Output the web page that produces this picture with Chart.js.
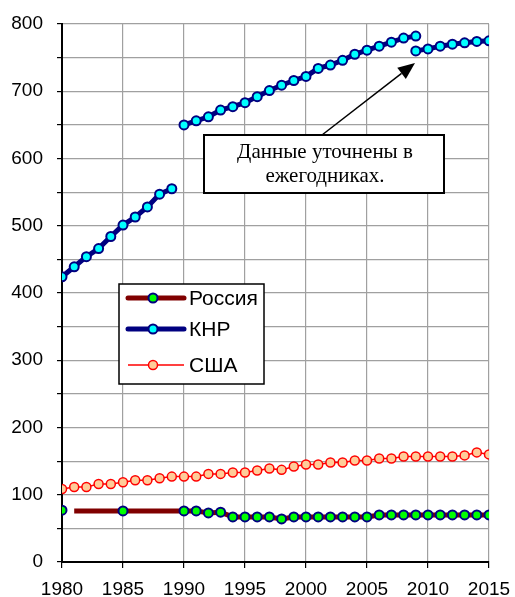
<!DOCTYPE html>
<html>
<head>
<meta charset="utf-8">
<script src="https://cdn.jsdelivr.net/npm/chart.js@4"></script>
<style>
  body { margin: 0; background: #fff; }
  #wrap { width: 515px; height: 597px; }
</style>
</head>
<body>
<div id="wrap"><canvas id="production" width="515" height="597"></canvas></div>
<script>
// years on the x axis
const years = [1980, 1981, 1982, 1983, 1984, 1985, 1986, 1987, 1988, 1989,
               1990, 1991, 1992, 1993, 1994, 1995, 1996, 1997, 1998, 1999,
               2000, 2001, 2002, 2003, 2004, 2005, 2006, 2007, 2008, 2009,
               2010, 2011, 2012, 2013, 2014, 2015];

const russia = [77, 76, 76, 76, 76, 76, 76, 76, 76, 76,
                76, 76, 73, 74, 67, 67, 67, 67, 64, 67,
                67, 67, 67, 67, 67, 67, 70, 70, 70, 70,
                70, 70, 70, 70, 70, 70];

// China: old series 1980-2009, revised series 2009-2015
const china = [424, 439, 454, 466, 484, 501, 513, 528, 547, 555,
               650, 656, 662, 672, 677, 683, 692, 701, 709, 716,
               722, 734, 739, 746, 755, 761, 767, 773, 779, 782];
const chinaRevisedYears = [2009, 2010, 2011, 2012, 2013, 2014, 2015];
const chinaRevised = [760, 763, 767, 770, 772, 774, 775];

const usa = [108.5, 111.5, 111.5, 116, 116, 118.5, 121.5, 121.5, 124.5, 127,
             127, 127, 131, 131, 133, 133, 136, 139, 137, 142,
             145, 145, 148, 148, 151, 151, 154, 154, 157, 157,
             157, 157, 157, 158.5, 163, 160];

const yTicks = [0, 100, 200, 300, 400, 500, 600, 700, 800];
const xTicks = [1980, 1985, 1990, 1995, 2000, 2005, 2010, 2015];

const labels = ['Россия', 'КНР', 'США'];
const note = ['Данные уточнены в', 'ежегодниках.'];

// line breaks after these years
const russiaGapAfter = [1980];
const chinaGapAfter = [1989];
// Russia years drawn without marker
const russiaNoMarker = [1981, 1982, 1983, 1984, 1986, 1987, 1988, 1989];

function toPoints(xs, ys, gaps) {
    const out = [];
    xs.forEach((x, i) => {
        out.push({x: x, y: ys[i]});
        if (gaps.includes(x)) out.push({x: x, y: null});
    });
    return out;
}

const russiaData = toPoints(years, russia, russiaGapAfter);
const chinaData = toPoints(years.slice(0, china.length), china, chinaGapAfter)
    .concat([{x: 2009, y: null}])
    .concat(toPoints(chinaRevisedYears, chinaRevised, []));
const usaData = toPoints(years, usa, []);

// legend + note box drawn on top of the plot
const overlay = {
    id: 'overlay',
    afterDatasetsDraw(chart) {
        const c = chart.ctx;
        c.save();
        // legend box
        c.fillStyle = '#fff';
        c.fillRect(119, 284, 145, 100);
        c.strokeStyle = '#000';
        c.lineWidth = 1.5;
        c.strokeRect(119, 284, 145, 100);
        const rowsY = [298, 329, 365];
        chart.data.datasets.forEach((ds, i) => {
            const y = rowsY[i];
            c.strokeStyle = ds.borderColor;
            c.lineWidth = ds.borderWidth;
            c.lineCap = ds.borderWidth > 3 ? 'round' : 'butt';
            c.beginPath();
            c.moveTo(128, y);
            c.lineTo(184, y);
            c.stroke();
            c.beginPath();
            c.arc(153, y, 4.5, 0, Math.PI * 2);
            c.fillStyle = ds.pointBackgroundColor;
            c.fill();
            c.lineWidth = ds.pointBorderWidth;
            c.strokeStyle = ds.pointBorderColor;
            c.stroke();
            c.fillStyle = '#000';
            c.font = '21px "Liberation Sans", Arial, sans-serif';
            c.textBaseline = 'middle';
            c.textAlign = 'left';
            c.fillText(ds.label, 189, y + 1);
        });

        // arrow
        c.strokeStyle = '#000';
        c.fillStyle = '#000';
        c.lineWidth = 1.5;
        c.lineCap = 'butt';
        const x0 = 322, y0 = 135, x1 = 415, y1 = 63;
        const ang = Math.atan2(y1 - y0, x1 - x0);
        const hl = 17, hw = 7;
        const bx = x1 - hl * Math.cos(ang), by = y1 - hl * Math.sin(ang);
        c.beginPath();
        c.moveTo(x0, y0);
        c.lineTo(bx, by);
        c.stroke();
        c.beginPath();
        c.moveTo(x1, y1);
        c.lineTo(bx + hw * Math.sin(ang), by - hw * Math.cos(ang));
        c.lineTo(bx - hw * Math.sin(ang), by + hw * Math.cos(ang));
        c.closePath();
        c.fill();

        // note box
        c.fillStyle = '#fff';
        c.fillRect(204, 135, 240, 58);
        c.lineWidth = 2;
        c.strokeRect(204, 135, 240, 58);
        c.fillStyle = '#000';
        c.font = '21px "Liberation Serif", "Times New Roman", serif';
        c.textAlign = 'center';
        c.textBaseline = 'middle';
        c.fillText(note[0], 325, 152);
        c.fillText(note[1], 325, 176);
        c.restore();
    }
};

const ctx = document.getElementById('production').getContext('2d');
const productionChart = new Chart(ctx, {
    type: 'line',
    data: {
        datasets: [{
            label: labels[0],
            data: russiaData,
            borderColor: '#800000',
            borderWidth: 5,
            pointBackgroundColor: '#00ff00',
            pointBorderColor: '#000080',
            pointBorderWidth: 2,
            pointRadius: c => (c.raw && russiaNoMarker.includes(c.raw.x) && c.raw.y !== null && c.dataIndex > 1) ? 0 : 4.5
        }, {
            label: labels[1],
            data: chinaData,
            borderColor: '#000080',
            borderWidth: 5,
            pointBackgroundColor: '#00ffff',
            pointBorderColor: '#000080',
            pointBorderWidth: 2,
            pointRadius: 4.5
        }, {
            label: labels[2],
            data: usaData,
            borderColor: '#ff0000',
            borderWidth: 1.5,
            pointBackgroundColor: '#ffcc99',
            pointBorderColor: '#ff0000',
            pointBorderWidth: 1.5,
            pointRadius: 4.5
        }]
    },
    options: {
        responsive: false,
        animation: false,
        spanGaps: false,
        layout: {
            padding: {top: 24, right: 26, left: 0, bottom: 0}
        },
        plugins: {
            legend: {display: false},
            tooltip: {enabled: false}
        },
        scales: {
            x: {
                type: 'linear',
                min: 1980,
                max: 2015,
                afterBuildTicks: s => { s.ticks = xTicks.map(v => ({value: v})); },
                afterFit: s => { s.height = 35; s.paddingLeft = 0; s.paddingRight = 0; },
                ticks: {
                    color: '#000',
                    padding: 10,
                    maxRotation: 0,
                    font: {family: '"Liberation Sans", Arial, sans-serif', size: 19},
                    callback: v => String(v)
                },
                grid: {color: '#a0a0a0', lineWidth: 1.2, tickLength: 6, tickColor: '#000'},
                border: {color: '#000', width: 2}
            },
            y: {
                min: 0,
                max: 800,
                afterFit: s => { s.width = 62; s.paddingTop = 0; s.paddingBottom = 0; },
                ticks: {
                    stepSize: 50,
                    color: '#000',
                    padding: 14,
                    font: {family: '"Liberation Sans", Arial, sans-serif', size: 19},
                    callback: v => yTicks.includes(v) ? String(v) : ''
                },
                grid: {color: '#a0a0a0', lineWidth: 1.2, tickLength: 5, tickColor: '#000'},
                border: {color: '#000', width: 2}
            }
        }
    },
    plugins: [overlay]
});
</script>
</body>
</html>
